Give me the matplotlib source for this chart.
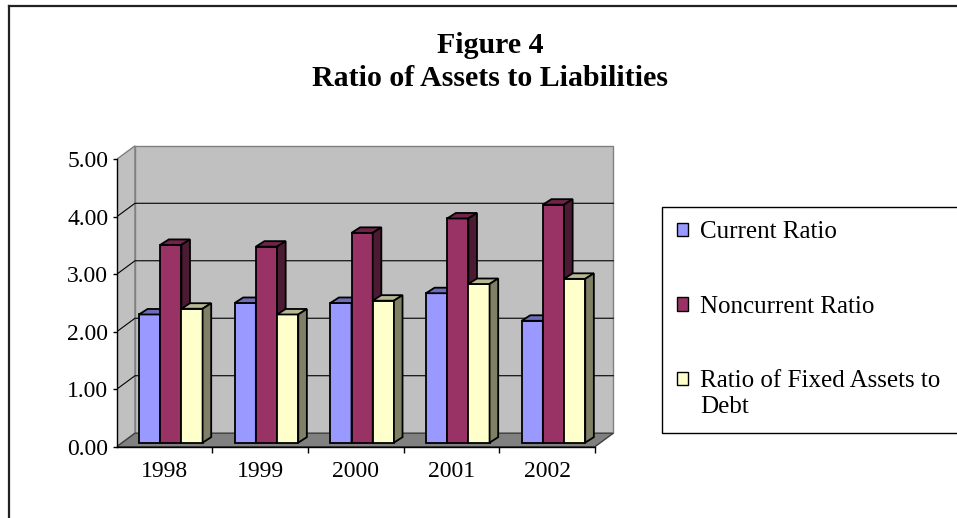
import matplotlib
matplotlib.use("Agg")
import matplotlib.pyplot as plt
import numpy as np
from matplotlib.patches import Polygon, Patch, Rectangle
from matplotlib.lines import Line2D
from matplotlib.legend_handler import HandlerPatch

plt.rcParams['font.family'] = ['Liberation Serif', 'DejaVu Serif']

years = ['1998', '1999', '2000', '2001', '2002']
series_names = ['Current Ratio', 'Noncurrent Ratio', 'Ratio of Fixed Assets to\nDebt']
current_ratio = [2.23, 2.43, 2.43, 2.60, 2.12]
noncurrent_ratio = [3.44, 3.41, 3.65, 3.90, 4.14]
fixed_to_debt = [2.33, 2.23, 2.47, 2.76, 2.85]
y_ticks = [0, 1, 2, 3, 4, 5]

colors = ['#9999FF', '#993366', '#FFFFCC']

W, H = 957, 518
fig = plt.figure(figsize=(W / 100, H / 100), dpi=100)

# plot box: x 0..5 -> 116.7..595 px, y 0..5 -> 446.7..159.3 px
xpx = (595 - 116.7) / 5
ypx = (446.7 - 159.3) / 5
xmax, ymax = 5.25, 5.3
ax = fig.add_axes([116.7 / W, (H - 446.7) / H, xmax * xpx / W, ymax * ypx / H])
ax.set_xlim(0, xmax)
ax.set_ylim(0, ymax)
ax.patch.set_visible(False)

# depth of the 3d box (wall offset) and of each bar
dx, dy = 18.3 / xpx, 13.5 / ypx
bdx, bdy = 8.6 / xpx, 5.5 / ypx
# bars sit part way back in the box
fdx, fdy = 0.3 * dx, 0.3 * dy
bar_w = 21.2 / xpx
group_off = 22.3 / xpx - fdx

wall = '#C0C0C0'
ax.add_patch(Polygon([(0, 0), (dx, dy), (dx, 5 + dy), (0, 5)], closed=True,
                     facecolor=wall, edgecolor='#808080', lw=1, zorder=0))
ax.add_patch(Polygon([(dx, dy), (5 + dx, dy), (5 + dx, 5 + dy), (dx, 5 + dy)], closed=True,
                     facecolor=wall, edgecolor='#808080', lw=1, zorder=0))
ax.add_patch(Polygon([(0, 0), (5, 0), (5 + dx, dy), (dx, dy)], closed=True,
                     facecolor='#808080', edgecolor='#404040', lw=1, zorder=1))

for v in y_ticks[1:-1]:
    ax.plot([0, dx, 5 + dx], [v, v + dy, v + dy], color='black', lw=0.8, zorder=1)

x = np.arange(len(years))
for j, (vals, c) in enumerate(zip([current_ratio, noncurrent_ratio, fixed_to_debt], colors)):
    rgb = np.array(matplotlib.colors.to_rgb(c))
    left = x + group_off + fdx + j * bar_w
    ax.bar(left, vals, width=bar_w, bottom=fdy, align='edge', color=c,
           edgecolor='black', lw=1.3, zorder=3 + 2 * j)
    for l, v in zip(left, vals):
        top = fdy + v
        ax.add_patch(Polygon([(l, top), (l + bar_w, top), (l + bar_w + bdx, top + bdy), (l + bdx, top + bdy)],
                             closed=True, facecolor=rgb * 0.72, edgecolor='black', lw=1.3, zorder=4 + 2 * j))
        ax.add_patch(Polygon([(l + bar_w, fdy), (l + bar_w + bdx, fdy + bdy), (l + bar_w + bdx, top + bdy), (l + bar_w, top)],
                             closed=True, facecolor=rgb * 0.5, edgecolor='black', lw=1.3, zorder=4 + 2 * j))

# axes
for s in ['top', 'right']:
    ax.spines[s].set_visible(False)
ax.spines['left'].set_bounds(0, 5)
ax.spines['bottom'].set_bounds(0, 5)
for s in ['left', 'bottom']:
    ax.spines[s].set_linewidth(1.0)
    ax.spines[s].set_zorder(20)
ax.set_yticks(y_ticks)
ax.set_yticklabels(['%.2f' % v for v in y_ticks])
ax.tick_params(axis='y', length=3, width=1, pad=3.0, labelsize=17)
ax.set_xticks(np.arange(1, 6))
ax.set_xticklabels([])
ax.set_xticks(x + 0.5, minor=True)
ax.set_xticklabels(years, minor=True)
ax.tick_params(axis='x', which='major', length=4.5, width=1)
ax.tick_params(axis='x', which='minor', length=0, pad=10.5, labelsize=17)

fig.text(490 / W, 1 - 62 / H, 'Figure 4\nRatio of Assets to Liabilities', ha='center', va='center',
         fontsize=21.5, fontweight='bold', linespacing=1.3)

leg_fs = 18


def first_line_square(legend, orig_handle, xdescent, ydescent, width, height, fontsize):
    # keep the square level with the first line of a two-line label
    shift = 0.62 * fontsize if '\n' in orig_handle.get_label() else 0
    return Rectangle((-xdescent, -ydescent + shift), width, height)


handles = [Patch(facecolor=c, edgecolor='black', lw=1, label=n) for c, n in zip(colors, series_names)]
leg = fig.legend(handles, series_names, loc='upper left',
                 bbox_to_anchor=(662 / W, 1 - 206.7 / H, 0.35, 0.0), mode='expand',
                 borderaxespad=0, fontsize=leg_fs, handlelength=0.45, handleheight=0.45,
                 handletextpad=0.5, borderpad=0.58, labelspacing=2.1,
                 fancybox=False, framealpha=1,
                 handler_map={Patch: HandlerPatch(patch_func=first_line_square)})
leg.get_frame().set_edgecolor('black')
leg.get_frame().set_linewidth(1)
for t in leg.get_texts():
    t.set_linespacing(1.25)

# chart area border
fig.add_artist(Line2D([9 / W, 9 / W], [0, 1 - 6 / H], color='#222222', lw=1.6))
fig.add_artist(Line2D([9 / W, 1], [1 - 6 / H, 1 - 6 / H], color='#222222', lw=1.6))

fig.savefig('out.png', dpi=100)
